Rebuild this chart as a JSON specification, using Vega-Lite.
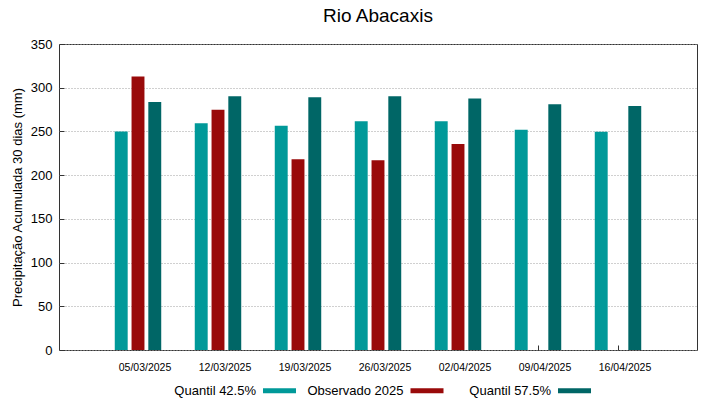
{
  "$schema": "https://vega.github.io/schema/vega-lite/v6.json",
  "width": 638,
  "height": 306,
  "autosize": {"type": "none"},
  "padding": {"left": 59, "top": 44, "right": 22, "bottom": 49},
  "background": "white",
  "title": {
    "text": "Rio Abacaxis",
    "font": "Liberation Sans",
    "fontSize": 19,
    "fontWeight": "normal",
    "color": "black",
    "anchor": "middle",
    "offset": 12
  },
  "config": {
    "view": {"stroke": "#333333", "strokeWidth": 1},
    "font": "Liberation Sans"
  },
  "data": {
    "values": [
      {"date": "05/03/2025", "series": "Quantil 42.5%", "value": 250},
      {"date": "05/03/2025", "series": "Observado 2025", "value": 312.8},
      {"date": "05/03/2025", "series": "Quantil 57.5%", "value": 283.8},
      {"date": "12/03/2025", "series": "Quantil 42.5%", "value": 259.4},
      {"date": "12/03/2025", "series": "Observado 2025", "value": 274.7},
      {"date": "12/03/2025", "series": "Quantil 57.5%", "value": 290.1},
      {"date": "19/03/2025", "series": "Quantil 42.5%", "value": 256.5},
      {"date": "19/03/2025", "series": "Observado 2025", "value": 218.2},
      {"date": "19/03/2025", "series": "Quantil 57.5%", "value": 289},
      {"date": "26/03/2025", "series": "Quantil 42.5%", "value": 261.7},
      {"date": "26/03/2025", "series": "Observado 2025", "value": 217},
      {"date": "26/03/2025", "series": "Quantil 57.5%", "value": 290.1},
      {"date": "02/04/2025", "series": "Quantil 42.5%", "value": 261.7},
      {"date": "02/04/2025", "series": "Observado 2025", "value": 235.6},
      {"date": "02/04/2025", "series": "Quantil 57.5%", "value": 287.8},
      {"date": "09/04/2025", "series": "Quantil 42.5%", "value": 251.9},
      {"date": "09/04/2025", "series": "Quantil 57.5%", "value": 281},
      {"date": "16/04/2025", "series": "Quantil 42.5%", "value": 249.7},
      {"date": "16/04/2025", "series": "Quantil 57.5%", "value": 279.2}
    ]
  },
  "mark": {"type": "bar"},
  "encoding": {
    "x": {
      "field": "date",
      "type": "ordinal",
      "sort": null,
      "scale": {"paddingInner": 0, "paddingOuter": 0.4875},
      "axis": {
        "title": null,
        "labelAngle": 0,
        "labelFont": "Liberation Sans",
        "labelFontSize": 10.5,
        "labelColor": "black",
        "labelOffset": 7,
        "labelPadding": 17,
        "tickSize": -5,
        "tickColor": "#333333",
        "domain": false,
        "grid": false
      }
    },
    "xOffset": {
      "field": "series",
      "type": "nominal",
      "sort": ["Quantil 42.5%", "Observado 2025", "Quantil 57.5%"],
      "scale": {"domain": ["Quantil 42.5%", "Observado 2025", "Quantil 57.5%"], "paddingInner": 0.23, "paddingOuter": 1.115}
    },
    "y": {
      "field": "value",
      "type": "quantitative",
      "scale": {"domain": [0, 350], "nice": false},
      "axis": {
        "title": "Precipitação Acumulada 30 dias (mm)",
        "titleFont": "Liberation Sans",
        "titleFontSize": 13,
        "titleFontWeight": "normal",
        "titleColor": "black",
        "titlePadding": 6,
        "values": [0, 50, 100, 150, 200, 250, 300, 350],
        "labelFont": "Liberation Sans",
        "labelFontSize": 13,
        "labelColor": "black",
        "labelPadding": 12,
        "tickSize": -5,
        "tickColor": "#333333",
        "domain": false,
        "grid": true,
        "gridColor": "#a0a0a0",
        "gridDash": [1, 2],
        "gridWidth": 1
      }
    },
    "color": {
      "field": "series",
      "type": "nominal",
      "scale": {
        "domain": ["Quantil 42.5%", "Observado 2025", "Quantil 57.5%"],
        "range": ["#009999", "#990a0a", "#006666"]
      },
      "legend": {
        "title": null,
        "orient": "none",
        "direction": "horizontal",
        "legendX": 204,
        "legendY": 330,
        "symbolType": "M-1,-0.15H1V0.15H-1Z",
        "symbolSize": 1089,
        "symbolStrokeWidth": 0,
        "symbolOpacity": 1,
        "labelAlign": "right",
        "labelOffset": -40,
        "labelFont": "Liberation Sans",
        "labelFontSize": 13,
        "labelColor": "black",
        "columnPadding": 10.5,
        "gridAlign": "all",
        "labelLimit": 200
      }
    }
  }
}
